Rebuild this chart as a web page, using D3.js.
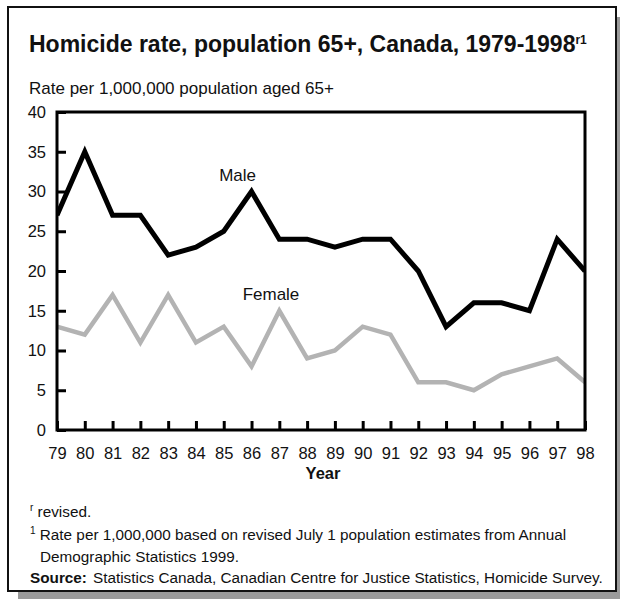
<!DOCTYPE html>
<html>
<head>
<meta charset="utf-8">
<script src="https://cdn.jsdelivr.net/npm/d3@7"></script>
<style>
  body { margin: 0; background: #fff; }
  svg { display: block; font-family: "Liberation Sans", Arial, sans-serif; }
</style>
</head>
<body>
<div id="chart"></div>
<script>
// data
const years = [79, 80, 81, 82, 83, 84, 85, 86, 87, 88, 89, 90, 91, 92, 93, 94, 95, 96, 97, 98];
const male = [27, 35, 27, 27, 22, 23, 25, 30, 24, 24, 23, 24, 24, 20, 13, 16, 16, 15, 24, 20];
const female = [13, 12, 17, 11, 17, 11, 13, 8, 15, 9, 10, 13, 12, 6, 6, 5, 7, 8, 9, 6];
const yTicks = [0, 5, 10, 15, 20, 25, 30, 35, 40];

const W = 620, H = 599;
const margin = { top: 112, right: 35, bottom: 169, left: 57 };
const width = W - margin.left - margin.right;
const height = H - margin.top - margin.bottom;

const svg = d3.select("#chart").append("svg")
    .attr("width", W)
    .attr("height", H);

// frame with drop shadow
svg.append("rect")
    .attr("x", 18).attr("y", 17)
    .attr("width", 610).attr("height", 590)
    .attr("fill", "#9a9a9a");
svg.append("rect")
    .attr("x", 8).attr("y", 7)
    .attr("width", 608).attr("height", 584)
    .attr("fill", "#fff")
    .attr("stroke", "#111")
    .attr("stroke-width", 2);

// title
const title = svg.append("text")
    .attr("x", 29).attr("y", 52)
    .style("font-size", "23px")
    .style("font-weight", "bold")
    .attr("fill", "#111")
    .text("Homicide rate, population 65+, Canada, 1979-1998");
title.append("tspan")
    .attr("dy", -8)
    .style("font-size", "12px")
    .text("r1");

svg.append("text")
    .attr("x", 29).attr("y", 94)
    .style("font-size", "17px")
    .attr("fill", "#111")
    .text("Rate per 1,000,000 population aged 65+");

const g = svg.append("g")
    .attr("transform", `translate(${margin.left},${margin.top})`);

const x = d3.scaleLinear()
    .domain([years[0], years[years.length - 1]])
    .range([0, width]);

const y = d3.scaleLinear()
    .domain([0, 40])
    .range([height, 0]);

// axes (ticks point inward)
const xAxis = g.append("g")
    .attr("transform", `translate(0,${height})`)
    .call(d3.axisBottom(x).tickValues(years).tickSizeInner(-9).tickSizeOuter(0).tickFormat(d => d));
const yAxis = g.append("g")
    .call(d3.axisLeft(y).tickValues(yTicks).tickSizeInner(-9).tickSizeOuter(0));

[xAxis, yAxis].forEach(a => {
    a.select(".domain").remove();
    a.selectAll(".tick line").attr("stroke", "#000").attr("stroke-width", 3);
    a.selectAll(".tick text")
        .attr("fill", "#111")
        .style("font-size", "16.5px")
        .style("font-family", "'Liberation Sans', Arial, sans-serif");
});
xAxis.selectAll(".tick text").attr("y", 17).attr("dy", "0.71em");
yAxis.selectAll(".tick text").attr("x", -11);

g.append("clipPath").attr("id", "plot-clip")
    .append("rect").attr("width", width).attr("height", height);

const line = d3.line()
    .x((d, i) => x(years[i]))
    .y(d => y(d));

g.append("path")
    .datum(female)
    .attr("clip-path", "url(#plot-clip)")
    .attr("fill", "none")
    .attr("stroke", "#b3b3b3")
    .attr("stroke-width", 4.5)
    .attr("d", line);

g.append("path")
    .datum(male)
    .attr("clip-path", "url(#plot-clip)")
    .attr("fill", "none")
    .attr("stroke", "#000")
    .attr("stroke-width", 5)
    .attr("d", line);

// plot box
g.append("rect")
    .attr("width", width).attr("height", height)
    .attr("fill", "none")
    .attr("stroke", "#000")
    .attr("stroke-width", 3);

// series labels
g.append("text")
    .attr("x", x(85.5)).attr("y", y(31.3))
    .attr("text-anchor", "middle")
    .style("font-size", "17px")
    .attr("fill", "#111")
    .text("Male");
g.append("text")
    .attr("x", x(86.7)).attr("y", y(16.3))
    .attr("text-anchor", "middle")
    .style("font-size", "17px")
    .attr("fill", "#111")
    .text("Female");

g.append("text")
    .attr("x", width / 2 + 2).attr("y", height + 49)
    .attr("text-anchor", "middle")
    .style("font-size", "16.5px")
    .style("font-weight", "bold")
    .attr("fill", "#111")
    .text("Year");

// notes
const notes = svg.append("g").style("font-size", "15.3px").attr("fill", "#111");
const n1 = notes.append("text").attr("x", 30).attr("y", 517);
n1.append("tspan").attr("dy", -6).style("font-size", "10px").text("r");
n1.append("tspan").attr("dy", 6).text(" revised.");
const n2 = notes.append("text").attr("x", 30).attr("y", 540);
n2.append("tspan").attr("dy", -6).style("font-size", "10px").text("1");
n2.append("tspan").attr("dy", 6).text(" Rate per 1,000,000 based on revised July 1 population estimates from Annual");
notes.append("text").attr("x", 40).attr("y", 562).text("Demographic Statistics 1999.");
notes.append("text").attr("x", 30).attr("y", 583).style("font-weight", "bold").text("Source:");
notes.append("text").attr("x", 93).attr("y", 583).text("Statistics Canada, Canadian Centre for Justice Statistics, Homicide Survey.");
</script>
</body>
</html>
